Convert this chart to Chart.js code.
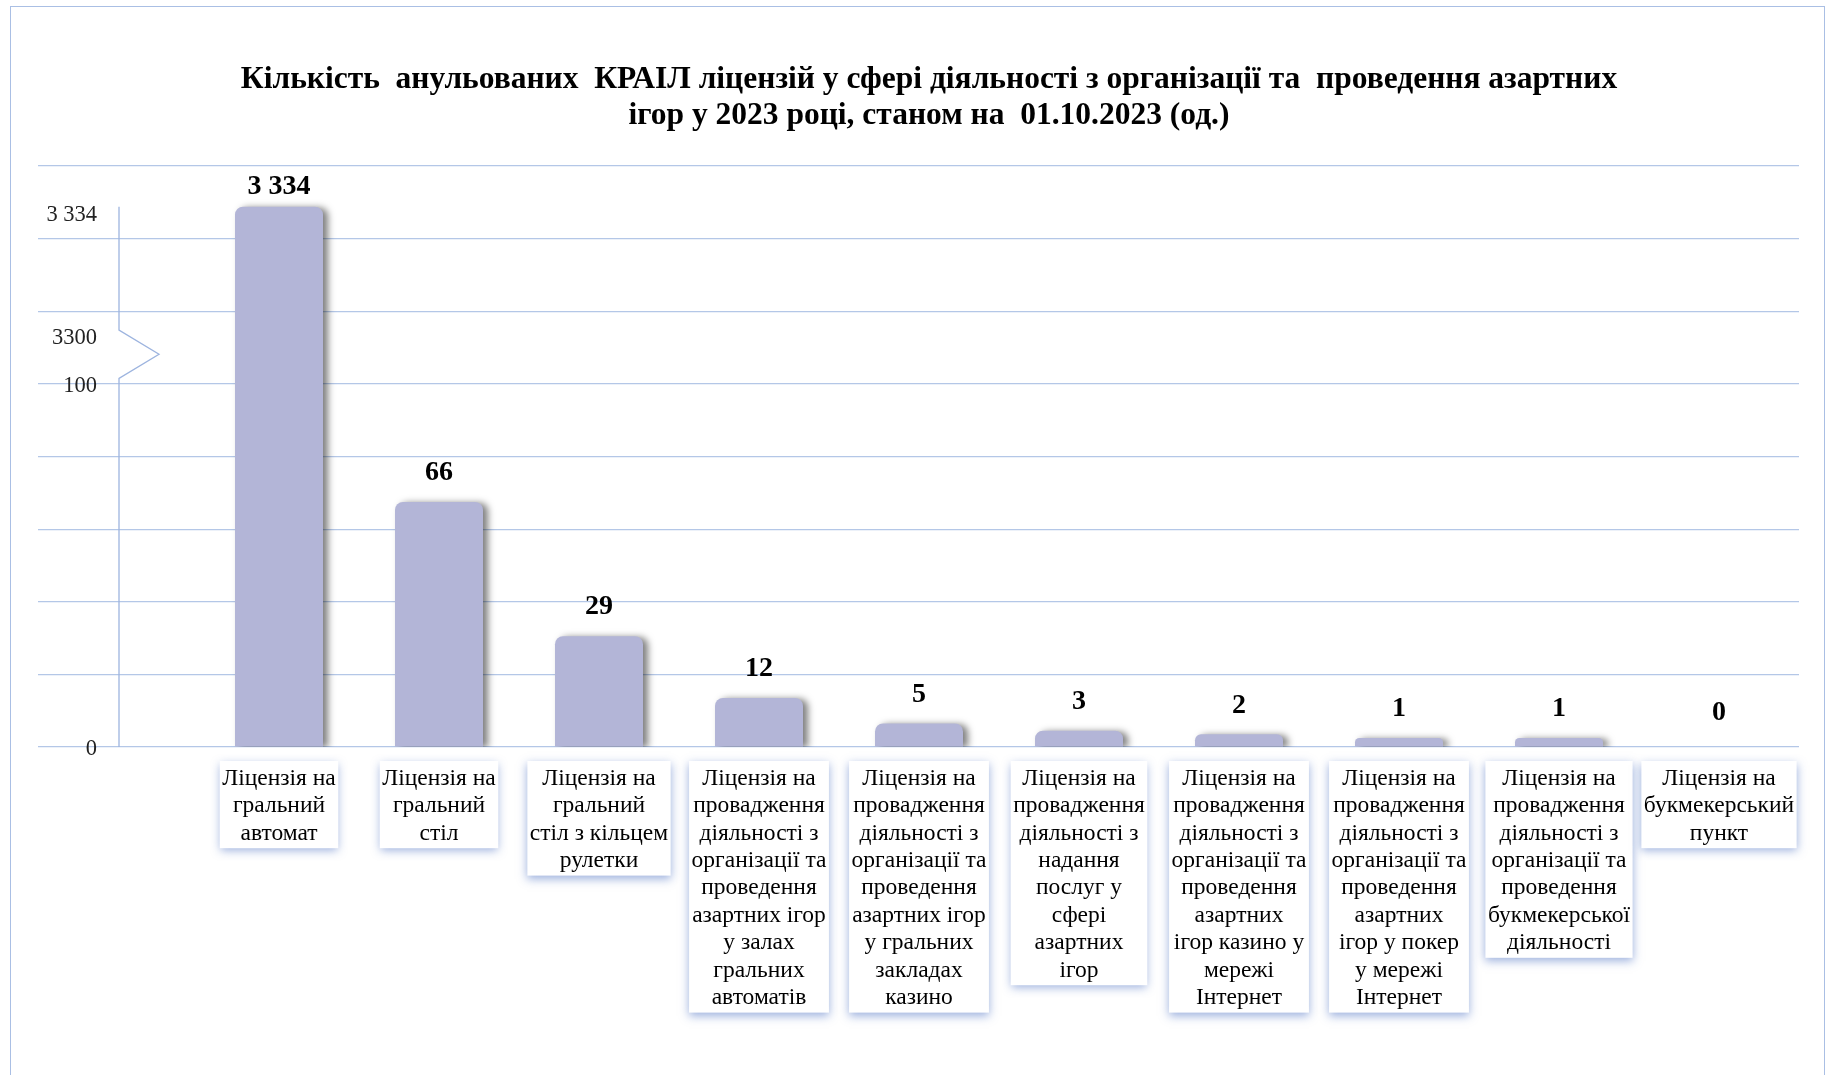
<!DOCTYPE html>
<html lang="uk">
<head>
<meta charset="utf-8">
<title>Анульовані ліцензії КРАІЛ, 2023</title>
<script src="https://cdn.jsdelivr.net/npm/chart.js@4.4.1/dist/chart.umd.min.js"></script>
<style>
  html, body { margin: 0; padding: 0; background: #fff; overflow: hidden; }
  #wrap { position: relative; width: 1829px; height: 1075px; }
  #frame { position: absolute; left: 10px; top: 6px; width: 1813px; height: 1200px; border: 1px solid #aabfe4; pointer-events: none; }
</style>
</head>
<body>
<div id="wrap">
  <canvas id="licenseChart"></canvas>
  <div id="frame"></div>
</div>
<script>
const titleLines = [
    'Кількість  анульованих  КРАІЛ ліцензій у сфері діяльності з організації та  проведення азартних',
    'ігор у 2023 році, станом на  01.10.2023 (од.)'
];
const categories = [
    ['Ліцензія на', 'гральний', 'автомат'],
    ['Ліцензія на', 'гральний', 'стіл'],
    ['Ліцензія на', 'гральний', 'стіл з кільцем', 'рулетки'],
    ['Ліцензія на', 'провадження', 'діяльності з', 'організації та', 'проведення', 'азартних ігор', 'у залах', 'гральних', 'автоматів'],
    ['Ліцензія на', 'провадження', 'діяльності з', 'організації та', 'проведення', 'азартних ігор', 'у гральних', 'закладах', 'казино'],
    ['Ліцензія на', 'провадження', 'діяльності з', 'надання', 'послуг у', 'сфері', 'азартних', 'ігор'],
    ['Ліцензія на', 'провадження', 'діяльності з', 'організації та', 'проведення', 'азартних', 'ігор казино у', 'мережі', 'Інтернет'],
    ['Ліцензія на', 'провадження', 'діяльності з', 'організації та', 'проведення', 'азартних', 'ігор у покер', 'у мережі', 'Інтернет'],
    ['Ліцензія на', 'провадження', 'діяльності з', 'організації та', 'проведення', 'букмекерської', 'діяльності'],
    ['Ліцензія на', 'букмекерський', 'пункт']
];
const cancelled = [3334, 66, 29, 12, 5, 3, 2, 1, 1, 0];
const axisLabelValues = [0, 100, 3300, 3334];
const axisLabelText = ['0', '100', '3300', '3 334'];

// the value axis is broken: everything between 100 and 3300 is squeezed into a small gap
const breakLow = 100, breakHigh = 3300, breakGap = 13.3;
const axisFloor = -1.5, axisSpan = 160, gridStep = 20;

function toAxis(v) {
    if (v <= breakLow) return v;
    if (v >= breakHigh) return v - breakHigh + breakLow + breakGap;
    return breakLow + (v - breakLow) / (breakHigh - breakLow) * breakGap;
}
function fromAxis(a) {
    if (a <= breakLow) return a;
    if (a >= breakLow + breakGap) return a - breakLow - breakGap + breakHigh;
    return breakLow + (a - breakLow) / breakGap * (breakHigh - breakLow);
}

class BrokenScale extends Chart.LinearScale {
    getPixelForValue(value) { return super.getPixelForValue(toAxis(value)); }
    getValueForPixel(pixel) { return fromAxis(super.getValueForPixel(pixel)); }
    _computeLabelArea() { return undefined; } // labels sit over the long tick marks, don't clip them
}
BrokenScale.id = 'broken';
BrokenScale.defaults = Chart.LinearScale.defaults;
Chart.register(BrokenScale);

const gridColor = '#b4c7e7';
const barColor = '#b3b5d7';
const serif = '"Liberation Serif", "Times New Roman", serif';
const catFontSize = 23.5, catLineHeight = 1.166;

function fmt(v) {
    return String(v).replace(/\B(?=(\d{3})+(?!\d))/g, ' ');
}

// white boxes with a bluish glow behind the category labels
const labelBoxes = {
    id: 'labelBoxes',
    beforeDraw(chart) {
        const x = chart.scales.x;
        const ctx = chart.ctx;
        const lineH = catFontSize * catLineHeight;
        ctx.save();
        ctx.font = catFontSize + 'px ' + serif;
        categories.forEach((lines, i) => {
            const w = Math.max(...lines.map(l => ctx.measureText(l).width)) + 5;
            const h = lines.length * lineH + 5;
            const cx = x.getPixelForTick(i);
            const top = chart.chartArea.bottom + 14;
            ctx.shadowColor = 'rgba(60, 100, 190, 0.5)';
            ctx.shadowBlur = 9;
            ctx.shadowOffsetX = 0;
            ctx.shadowOffsetY = 3;
            ctx.fillStyle = '#fff';
            ctx.fillRect(cx - w / 2, top, w, h);
        });
        ctx.restore();
    }
};

// vertical axis line with the zigzag break mark
const brokenAxis = {
    id: 'brokenAxis',
    afterDraw(chart) {
        const y = chart.scales.y;
        const ctx = chart.ctx;
        const ax = chart.chartArea.left - 80;
        const yTop = y.getPixelForValue(axisLabelValues[3]);
        const yHigh = y.getPixelForValue(breakHigh);
        const yLow = y.getPixelForValue(breakLow);
        const yBottom = chart.chartArea.bottom;
        ctx.save();
        ctx.strokeStyle = '#9db4df';
        ctx.lineWidth = 1.3;
        ctx.beginPath();
        ctx.moveTo(ax, yTop);
        ctx.lineTo(ax, yHigh);
        ctx.lineTo(ax + 40, (yHigh + yLow) / 2);
        ctx.lineTo(ax, yLow);
        ctx.lineTo(ax, yBottom);
        ctx.stroke();
        ctx.restore();
    }
};

// shadow on the bars and value labels above them
const barDecor = {
    id: 'barDecor',
    beforeDatasetsDraw(chart) {
        const ctx = chart.ctx;
        ctx.save();
        ctx.shadowColor = 'rgba(0, 0, 0, 0.5)';
        ctx.shadowBlur = 7;
        ctx.shadowOffsetX = 5;
        ctx.shadowOffsetY = 1;
    },
    afterDatasetsDraw(chart) {
        const ctx = chart.ctx;
        ctx.restore();
        ctx.save();
        ctx.font = 'bold 28px ' + serif;
        ctx.fillStyle = '#000';
        ctx.textAlign = 'center';
        ctx.textBaseline = 'middle';
        chart.getDatasetMeta(0).data.forEach((bar, i) => {
            const ly = Math.max(bar.y - 29, chart.chartArea.top + 21);
            ctx.fillText(fmt(cancelled[i]), bar.x, ly);
        });
        ctx.restore();
    }
};

function createLicenseChart() {
    const ctx = document.getElementById('licenseChart').getContext('2d');
    new Chart(ctx, {
        type: 'bar',
        data: {
            labels: categories,
            datasets: [{
                label: 'Кількість анульованих ліцензій',
                data: cancelled,
                base: axisFloor, // bars grow from the bottom of the axis, as in the original
                backgroundColor: c => (c.raw > 0 ? barColor : 'rgba(0,0,0,0)'), // nothing drawn for zero
                borderWidth: 0,
                borderRadius: 8,
                borderSkipped: 'start',
                barPercentage: 0.55,
                categoryPercentage: 1
            }]
        },
        options: {
            responsive: true,
            maintainAspectRatio: false,
            animation: false,
            layout: { padding: { left: 59, right: 30, top: 0, bottom: 0 } },
            plugins: {
                legend: { display: false },
                tooltip: { enabled: false },
                title: {
                    display: true,
                    text: titleLines,
                    color: '#000',
                    font: { family: serif, size: 31.5, weight: 'bold', lineHeight: 1.143 },
                    padding: { top: 62, bottom: 32 }
                }
            },
            scales: {
                x: {
                    grid: { display: false, drawTicks: false },
                    border: { display: false },
                    ticks: {
                        autoSkip: false,
                        maxRotation: 0,
                        minRotation: 0,
                        padding: 18,
                        color: '#000',
                        font: { family: serif, size: catFontSize, lineHeight: catLineHeight }
                    },
                    afterFit: scale => { scale.height = 328; }
                },
                y: {
                    type: 'broken',
                    min: axisFloor,
                    max: axisFloor + axisSpan,
                    border: { display: false },
                    grid: {
                        color: c => (c.tick && c.tick.grid ? gridColor : 'rgba(0,0,0,0)'),
                        lineWidth: 1.2,
                        drawTicks: true,
                        tickLength: 161
                    },
                    ticks: {
                        autoSkip: false,
                        padding: -59,
                        labelOffset: 8,
                        color: '#222',
                        font: { family: serif, size: 22.5 },
                        callback: (value, i, ticks) => ticks[i].text
                    },
                    afterBuildTicks: scale => {
                        const ticks = [];
                        for (let a = axisFloor; a <= axisFloor + axisSpan + 1e-9; a += gridStep) {
                            ticks.push({ value: fromAxis(a), grid: true, text: '' });
                        }
                        axisLabelValues.forEach((v, i) => {
                            ticks.push({ value: v, grid: false, text: axisLabelText[i] });
                        });
                        ticks.sort((a, b) => a.value - b.value);
                        scale.ticks = ticks;
                    },
                    afterFit: scale => { scale.width = 140; }
                }
            }
        },
        plugins: [labelBoxes, brokenAxis, barDecor]
    });
}

document.addEventListener('DOMContentLoaded', function() {
    createLicenseChart();
});
</script>
</body>
</html>
